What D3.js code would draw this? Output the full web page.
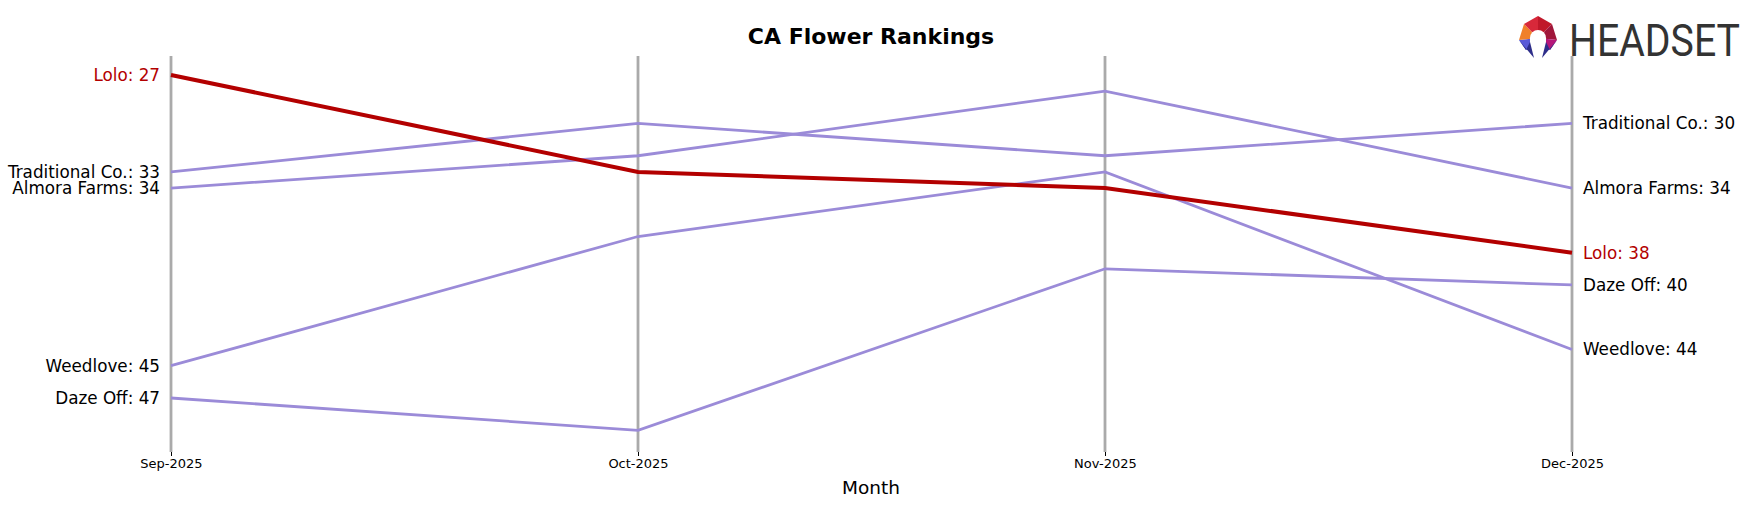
<!DOCTYPE html><html><head><script src="https://cdn.jsdelivr.net/npm/d3@7"></script>
<style>body{margin:0;background:#fff}</style></head><body><svg id="c" width="1754" height="507"></svg>
<script>
const months=["Sep-2025","Oct-2025","Nov-2025","Dec-2025"];
const brands=["Lolo","Traditional Co.","Almora Farms","Weedlove","Daze Off"];
const lolo=[27,33,34,38];
const traditional=[33,30,32,30];
const almora=[34,32,28,34];
const weedlove=[45,37,33,44];
const dazeoff=[47,49,39,40];
const seriesVals=[lolo,traditional,almora,weedlove,dazeoff];
const svg=d3.select("#c");
const font="DejaVu Sans, sans-serif";
const x=d3.scalePoint().domain(months).range([171,1572]);
const y=d3.scaleLinear().domain([27,47]).range([75,398]);
months.forEach(m=>svg.append("line").attr("x1",x(m)).attr("x2",x(m)).attr("y1",56).attr("y2",452).attr("stroke","#aaa").attr("stroke-width",2.8));
const ax=svg.append("g").attr("transform","translate(0,452)").call(d3.axisBottom(x).tickSize(4));
ax.select(".domain").remove();
ax.selectAll("text").attr("font-family",font).attr("font-size",13).attr("fill","#000");
const line=d3.line().x((d,i)=>x(months[i])).y(d=>y(d));
const order=[1,2,3,4,0];
order.forEach(k=>{
 const isL=k===0;
 svg.append("path").attr("d",line(seriesVals[k])).attr("fill","none")
  .attr("stroke",isL?"#b30000":"#9b8bd8").attr("stroke-width",isL?4:2.8);
});
seriesVals.forEach((v,k)=>{
 const col=k===0?"#b30000":"#000";
 svg.append("text").attr("x",x(months[0])-11).attr("y",y(v[0])).attr("dy","0.35em").attr("text-anchor","end")
  .attr("font-family",font).attr("font-size",16.8).attr("fill",col).text(brands[k]+": "+v[0]);
 svg.append("text").attr("x",x(months[3])+11).attr("y",y(v[3])).attr("dy","0.35em")
  .attr("font-family",font).attr("font-size",16.8).attr("fill",col).text(brands[k]+": "+v[3]);
});
svg.append("text").attr("x",871).attr("y",44).attr("text-anchor","middle").attr("font-family",font)
 .attr("font-weight","bold").attr("font-size",22).text("CA Flower Rankings");
svg.append("text").attr("x",871).attr("y",494).attr("text-anchor","middle").attr("font-family",font)
 .attr("font-size",18.5).text("Month");
// logo
const lg=svg.append("g").attr("transform","translate(1538,38)");
const pts=[[0,-22],[14,-14],[19,2],[12,12],[-12,12],[-19,2],[-14,-14]];
const cols=["#c0182a","#a0163a","#b5177a","#5a5ad8","#5a5ad8","#f0802a","#d8283a"];
for(let i=0;i<6;i++){lg.append("path").attr("d",`M0,0L${pts[i]}L${pts[(i+1)%7]}Z`).attr("fill",cols[i]);}
lg.append("path").attr("d","M-14,-14L0,-22L0,0Z").attr("fill","#d8283a");
lg.append("circle").attr("r",8).attr("fill","#fff");
lg.append("rect").attr("x",-8).attr("y",0).attr("width",16).attr("height",14).attr("fill","#fff");
lg.append("path").attr("d","M-19,2L-12,12L-8,4L-4,20Z").attr("fill","#2e2e8a");
lg.append("path").attr("d","M19,2L12,12L8,4L4,20Z").attr("fill","#2e2e8a");
svg.append("text").attr("x",1569).attr("y",56).attr("font-family","Liberation Sans Narrow, Roboto, sans-serif")
 .attr("font-size",44).attr("fill","#333").attr("textLength",171).attr("lengthAdjust","spacingAndGlyphs").text("HEADSET");
</script></body></html>
